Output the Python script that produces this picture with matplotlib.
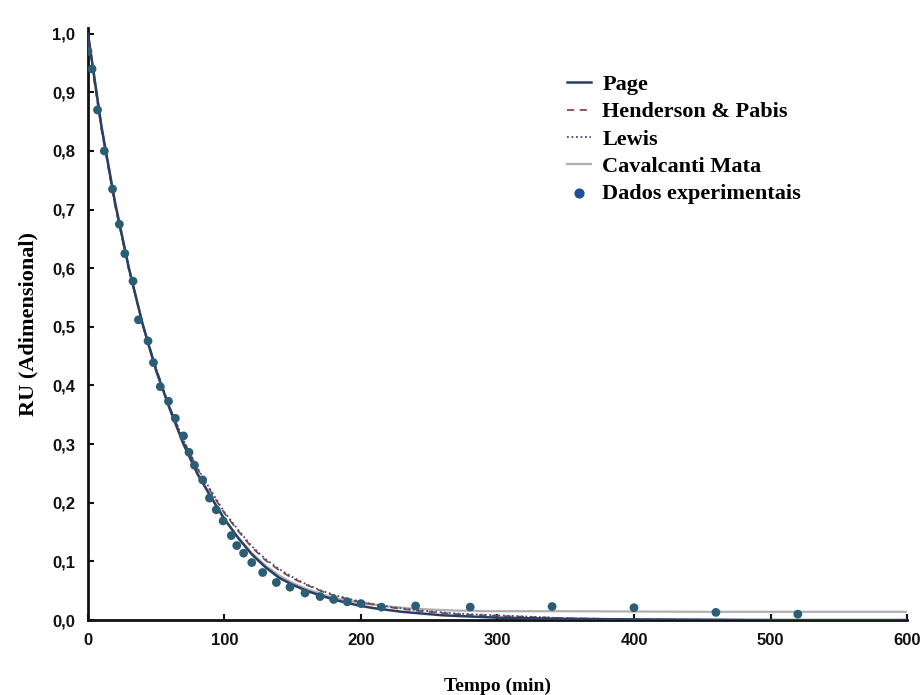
import matplotlib.pyplot as plt
from matplotlib.ticker import FuncFormatter

# experimental points
t_exp = [0, 3, 7, 12, 18, 23, 27, 33, 37, 44, 48, 53, 59, 64, 70, 74, 78, 84, 89, 94,
         99, 105, 109, 114, 120, 128, 138, 148, 159, 170, 180, 190, 200, 215, 240,
         280, 340, 400, 460, 520]
ru_exp = [0.97, 0.94, 0.87, 0.80, 0.735, 0.675, 0.625, 0.578, 0.512, 0.476, 0.439, 0.398,
          0.373, 0.344, 0.314, 0.286, 0.264, 0.239, 0.208, 0.188, 0.169, 0.144, 0.127,
          0.114, 0.098, 0.081, 0.064, 0.056, 0.046, 0.040, 0.035, 0.031, 0.028, 0.022,
          0.024, 0.022, 0.023, 0.021, 0.013, 0.010]

# model curves
t_mod = list(range(0, 301, 10)) + [350, 400, 450, 500, 550, 600]
ru_page = [1.0, 0.84, 0.71, 0.60, 0.505, 0.425, 0.36, 0.30, 0.25, 0.21, 0.172, 0.140,
           0.112, 0.090, 0.072, 0.060, 0.050, 0.042, 0.035, 0.029, 0.024, 0.020, 0.017,
           0.014, 0.012, 0.010, 0.008, 0.007, 0.006, 0.005, 0.004, 0.002, 0.001, 0.0005,
           0.0, 0.0, 0.0]
ru_henderson = [0.99, 0.835, 0.705, 0.597, 0.505, 0.428, 0.362, 0.306, 0.259, 0.219,
                0.182, 0.152, 0.124, 0.102, 0.085, 0.071, 0.060, 0.050, 0.042, 0.036,
                0.030, 0.026, 0.022, 0.019, 0.016, 0.014, 0.012, 0.010, 0.009, 0.008,
                0.007, 0.003, 0.001, 0.0005, 0.0, 0.0, 0.0]
ru_lewis = [1.0, 0.84, 0.708, 0.598, 0.505, 0.428, 0.362, 0.307, 0.260, 0.221, 0.184,
            0.154, 0.126, 0.104, 0.087, 0.073, 0.061, 0.051, 0.043, 0.037, 0.031, 0.027,
            0.023, 0.020, 0.017, 0.015, 0.013, 0.011, 0.010, 0.009, 0.008, 0.003, 0.001,
            0.0005, 0.0, 0.0, 0.0]
ru_cavalcanti = [1.0, 0.84, 0.71, 0.60, 0.505, 0.425, 0.358, 0.30, 0.252, 0.211, 0.172,
                 0.141, 0.114, 0.093, 0.076, 0.063, 0.053, 0.045, 0.038, 0.033, 0.029,
                 0.026, 0.023, 0.021, 0.019, 0.018, 0.017, 0.016, 0.016, 0.015, 0.015,
                 0.015, 0.0145, 0.014, 0.014, 0.014, 0.014]

serif = 'Liberation Serif'
sans = 'Liberation Sans'

fig = plt.figure(figsize=(9.23, 6.95), dpi=100)
ax = fig.add_axes([0.0953, 0.1079, 0.8874, 0.852])

ax.plot(t_mod, ru_cavalcanti, color='#b0b0b0', lw=1.6, label='Cavalcanti Mata', zorder=2)
ax.plot(t_mod, ru_henderson, color='#8a4a4a', lw=1.3, ls=(0, (4, 3)), label='Henderson & Pabis', zorder=3)
ax.plot(t_mod, ru_lewis, color='#4a4a7a', lw=1.3, ls=(0, (1, 1.5)), label='Lewis', zorder=3)
ax.plot(t_mod, ru_page, color='#2a3f66', lw=1.8, label='Page', zorder=4)
ax.scatter(t_exp, ru_exp, s=40, color='#2b5e74', edgecolors='none', label='Dados experimentais', zorder=5)

ax.set_xlim(0, 600)
ax.set_ylim(0, 1.01)
ax.set_xticks(range(0, 601, 100))
ax.set_yticks([i / 10 for i in range(11)])
ax.yaxis.set_major_formatter(FuncFormatter(lambda v, p: f'{v:.1f}'.replace('.', ',')))

for s in ['top', 'right']:
    ax.spines[s].set_visible(False)
for s in ['left', 'bottom']:
    ax.spines[s].set_linewidth(2)
    ax.spines[s].set_color('#111111')

ax.tick_params(direction='in', length=4, width=1.5, colors='#111111', pad=9)
for lab in ax.get_xticklabels() + ax.get_yticklabels():
    lab.set_fontfamily(sans)
    lab.set_fontweight('bold')
    lab.set_fontsize(12)

ax.set_xlabel('Tempo (min)', fontfamily=serif, fontweight='bold', fontsize=14, labelpad=22)
ax.set_ylabel('RU (Adimensional)', fontfamily=serif, fontweight='bold', fontsize=16, labelpad=10)

handles, labels = ax.get_legend_handles_labels()
order = ['Page', 'Henderson & Pabis', 'Lewis', 'Cavalcanti Mata', 'Dados experimentais']
hl = {l: h for h, l in zip(handles, labels)}
leg = ax.legend([hl[o] for o in order], order, loc='upper left', bbox_to_anchor=(0.56, 0.955),
                frameon=False, handlelength=1.1, handletextpad=0.5, labelspacing=0.3,
                prop={'family': serif, 'weight': 'bold', 'size': 16})
leg.legend_handles[4].set_color('#1f4f9a')

fig.savefig('out.png', dpi=100)
